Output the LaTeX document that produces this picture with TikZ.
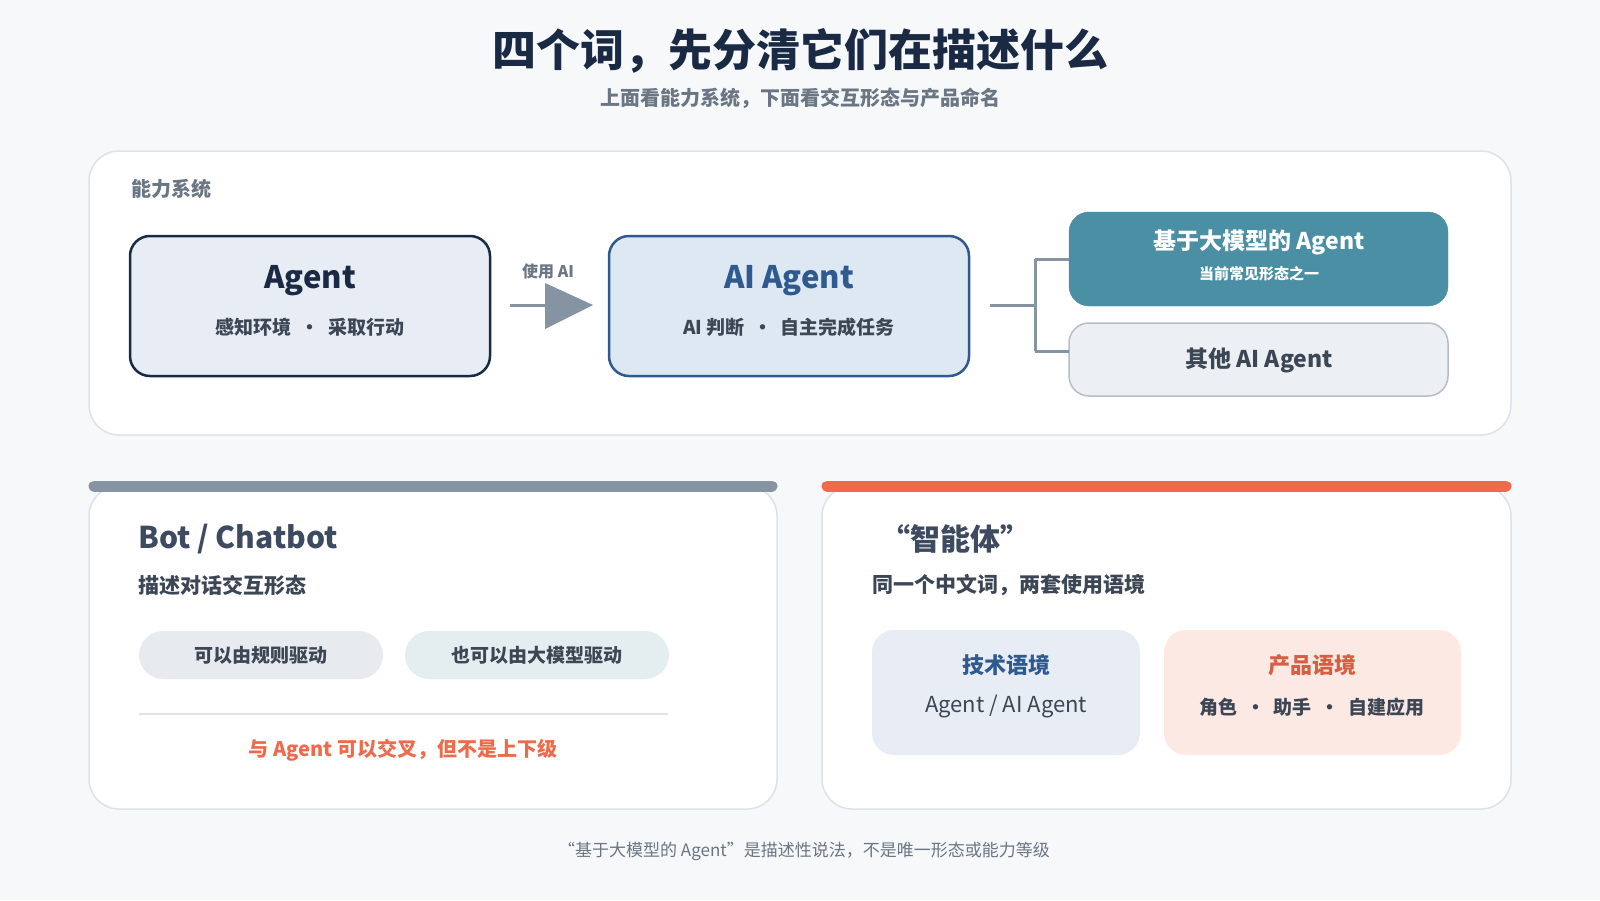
\documentclass[tikz,border=0pt]{standalone}
\usepackage{fontspec}
\setmainfont{Noto Sans CJK SC}
\newcommand{\bul}{\ \ •\ \ }
\begin{document}
\begin{tikzpicture}[x=1pt,y=-1pt,
 panel/.style={draw=cBorder,line width=1.5pt,fill=white,rounded corners=30pt},
 box/.style={rounded corners=20pt,line width=2.5pt},
 txt/.style={inner sep=0pt,anchor=center},
 ln/.style={draw=cLine,line width=3pt}]
\definecolor{cBg}{HTML}{F6F8FA}
\definecolor{cBorder}{HTML}{DDE3EA}
\definecolor{cDark}{HTML}{1B2A44}
\definecolor{cGray}{HTML}{6B7684}
\definecolor{cText}{HTML}{3C4654}
\definecolor{cBlue}{HTML}{2F5A8F}
\definecolor{cTeal}{HTML}{4A8FA3}
\definecolor{cLine}{HTML}{8593A2}
\definecolor{cOrange}{HTML}{EE6A4A}
\definecolor{cAg}{HTML}{E8EDF5}
\definecolor{cAi}{HTML}{DDE8F3}
\fill[cBg] (0,0) rectangle (1600,900);
\useasboundingbox (0,0) rectangle (1600,900);
\node[txt,font=\bfseries\fontsize{44}{50}\selectfont,text=cDark] (title) at (800,51) {四个词，先分清它们在描述什么};
\node[txt,font=\bfseries\fontsize{20}{24}\selectfont,text=cGray] (sub) at (800,98) {上面看能力系统，下面看交互形态与产品命名};
% top panel
\draw[panel] (89,151) rectangle (1511,435);
\node[txt,anchor=west,font=\bfseries\fontsize{20}{24}\selectfont,text=cGray] (cap) at (131,189) {能力系统};
\draw[box,draw=cDark,fill=cAg] (130,236) rectangle (490,376);
\node[txt,font=\bfseries\fontsize{31}{34}\selectfont,text=cDark] (agT) at (310,281) {Agent};
\node[txt,font=\bfseries\fontsize{19}{22}\selectfont,text=cText] (agS) at (310,327) {感知环境\bul 采取行动};
\draw[box,draw=cBlue,fill=cAi] (609,236) rectangle (969,376);
\node[txt,font=\bfseries\fontsize{31}{34}\selectfont,text=cBlue] (aiT) at (789,281) {AI Agent};
\node[txt,font=\bfseries\fontsize{19}{22}\selectfont,text=cText] (aiS) at (789,327) {AI 判断\bul 自主完成任务};
\coordinate (a1) at (510,305); \coordinate (a2) at (545,305);
\draw[ln] (a1) -- (a2);
\fill[cLine] (545,283) -- (593,305) -- (545,329) -- cycle;
\node[txt,font=\bfseries\fontsize{16}{20}\selectfont,text=cGray] (use) at (548,271) {使用 AI};
\draw[rounded corners=20pt,fill=cTeal,draw=cTeal] (1069,212) rectangle (1448,306);
\node[txt,font=\bfseries\fontsize{23}{26}\selectfont,text=white] (llm) at (1259,242) {基于大模型的 Agent};
\node[txt,font=\bfseries\fontsize{15}{18}\selectfont,text=white] (llmS) at (1259,274) {当前常见形态之一};
\draw[rounded corners=20pt,fill=cBg!60!cBorder,draw=cLine!60!white,line width=1.5pt] (1069,323) rectangle (1448,396);
\node[txt,font=\bfseries\fontsize{23}{26}\selectfont,text=cText] (oth) at (1259,360) {其他 AI Agent};
\coordinate (c0) at (990,305); \coordinate (c1) at (1035,305);
\coordinate (c2) at (1035,259); \coordinate (c3) at (1035,351);
\draw[ln] (c0) -- (c1);
\draw[ln] (c2) -- (c3);
\draw[ln] (c2) -- (1069,259);
\draw[ln] (c3) -- (1069,351);
% bottom left
\draw[panel] (89,486) rectangle (777,809);
\draw[line width=11pt,line cap=round,draw=cLine] (94,486) -- (772,486);
\node[txt,anchor=west,font=\bfseries\fontsize{30}{34}\selectfont,text=cDark!85!white] (bot) at (138,539) {Bot / Chatbot};
\node[txt,anchor=west,font=\bfseries\fontsize{21}{24}\selectfont,text=cText] (botS) at (138,585) {描述对话交互形态};
\fill[cBorder!70!white,rounded corners=24pt] (139,631) rectangle (383,679);
\node[txt,font=\bfseries\fontsize{19}{22}\selectfont,text=cText] (p1) at (261,655) {可以由规则驱动};
\fill[cTeal!15!white,rounded corners=24pt] (405,631) rectangle (669,679);
\node[txt,font=\bfseries\fontsize{19}{22}\selectfont,text=cText] (p2) at (537,655) {也可以由大模型驱动};
\draw[cBorder,line width=1.5pt] (139,714) -- (668,714);
\node[txt,font=\bfseries\fontsize{20}{22}\selectfont,text=cOrange] (rel) at (403,750) {与 Agent 可以交叉，但不是上下级};
% bottom right
\draw[panel] (822,486) rectangle (1511,809);
\draw[line width=11pt,line cap=round,draw=cOrange] (827,486) -- (1506,486);
\node[txt,anchor=west,font=\bfseries\fontsize{30}{34}\selectfont,text=cDark!85!white] (zn) at (880,539) {“智能体”};
\node[txt,anchor=west,font=\bfseries\fontsize{21}{24}\selectfont,text=cText] (znS) at (872,585) {同一个中文词，两套使用语境};
\fill[cAg,rounded corners=22pt] (872,630) rectangle (1140,755);
\node[txt,font=\bfseries\fontsize{22}{26}\selectfont,text=cBlue] (tech) at (1006,665) {技术语境};
\node[txt,font=\fontsize{22}{24}\selectfont,text=cText] (techS) at (1006,707) {Agent / AI Agent};
\fill[cOrange!15!white,rounded corners=22pt] (1164,630) rectangle (1461,755);
\node[txt,font=\bfseries\fontsize{22}{26}\selectfont,text=cOrange!90!black] (prod) at (1312,665) {产品语境};
\node[txt,font=\bfseries\fontsize{19}{22}\selectfont,text=cText] (prodS) at (1312,707) {角色\bul 助手\bul 自建应用};
\node[txt,font=\fontsize{17}{20}\selectfont,text=cGray] (foot) at (804,851) {“基于大模型的 Agent”是描述性说法，不是唯一形态或能力等级};
\end{tikzpicture}
\end{document}
